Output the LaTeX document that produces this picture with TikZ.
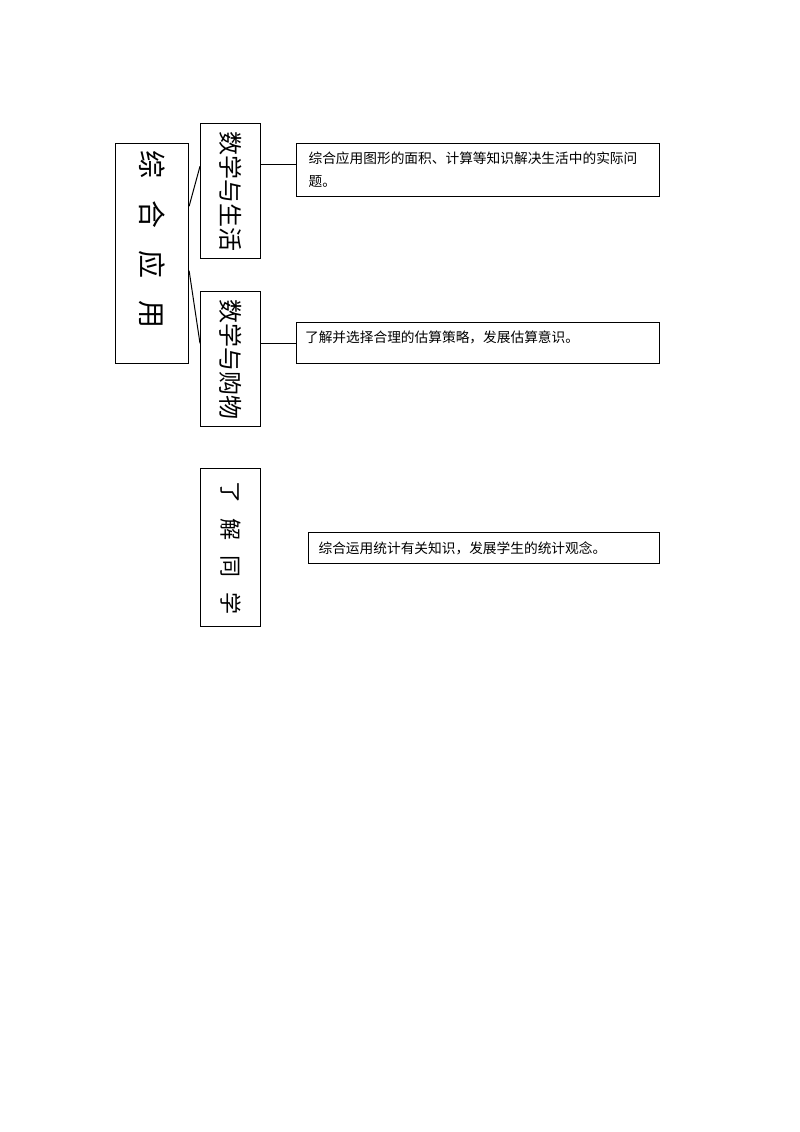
\documentclass[tikz,border=0pt]{standalone}
\usepackage{fontspec}
\usepackage{graphicx}
\newfontfamily\cjk{Noto Sans CJK SC}
\usetikzlibrary{calc}
\begin{document}
\begin{tikzpicture}[x=1pt,y=-1pt,
    vbox/.style={draw, line width=1.1pt, inner sep=0pt, anchor=north west, font=\cjk},
    tbox/.style={draw, line width=1.1pt, inner sep=0pt, anchor=north west, align=left,
      font=\cjk\fontsize{13.7}{23}\selectfont},
    link/.style={line width=1pt}]
  \useasboundingbox (0,0) rectangle (800,1132);
  \node [vbox, minimum width=73pt, minimum height=220pt, font=\cjk\fontsize{28}{28}\selectfont] (whole) at (115,143)
    {\rotatebox{-90}{\makebox[206pt][l]{综\hspace{22pt}合\hspace{22pt}应\hspace{22pt}用}}\hspace{30pt}};
  \node [vbox, minimum width=60pt, minimum height=135pt, font=\cjk\fontsize{24}{24}\selectfont] (life) at (200,123)
    {\rotatebox{-90}{数学与生活}};
  \node [vbox, minimum width=60pt, minimum height=135pt, font=\cjk\fontsize{24}{24}\selectfont] (shop) at (200,291)
    {\rotatebox{-90}{数学与购物}};
  \node [vbox, minimum width=60pt, minimum height=158pt, font=\cjk\fontsize{22}{22}\selectfont] (mates) at (200,468)
    {\rotatebox{-90}{了\hspace{15pt}解\hspace{15pt}同\hspace{15pt}学}};
  \node [tbox, minimum width=363pt, minimum height=53pt, text width=339pt] (desc1) at (296,143)
    {综合应用图形的面积、计算等知识解决生活中的实际问\\题。};
  \node [tbox, minimum width=363pt, text width=348pt, text height=20pt, text depth=21pt] (desc2) at (296,322)
    {\hspace{1pt}了解并选择合理的估算策略，发展估算意识。};
  \node [tbox, minimum width=351pt, minimum height=31pt, text width=331pt] (desc3) at (308,532)
    {综合运用统计有关知识，发展学生的统计观念。};
  \draw [link] ($(whole.north east)!0.286!(whole.south east)$) -- ($(life.north west)!0.318!(life.south west)$);
  \draw [link] ($(whole.north east)!0.577!(whole.south east)$) -- ($(shop.north west)!0.385!(shop.south west)$);
  \coordinate (lifeout) at ($(life.north east)!0.304!(life.south east)$);
  \draw [link] (lifeout) -- (lifeout -| desc1.west);
  \draw [link] (shop.east |- desc2.west) -- (desc2.west);
\end{tikzpicture}
\end{document}
